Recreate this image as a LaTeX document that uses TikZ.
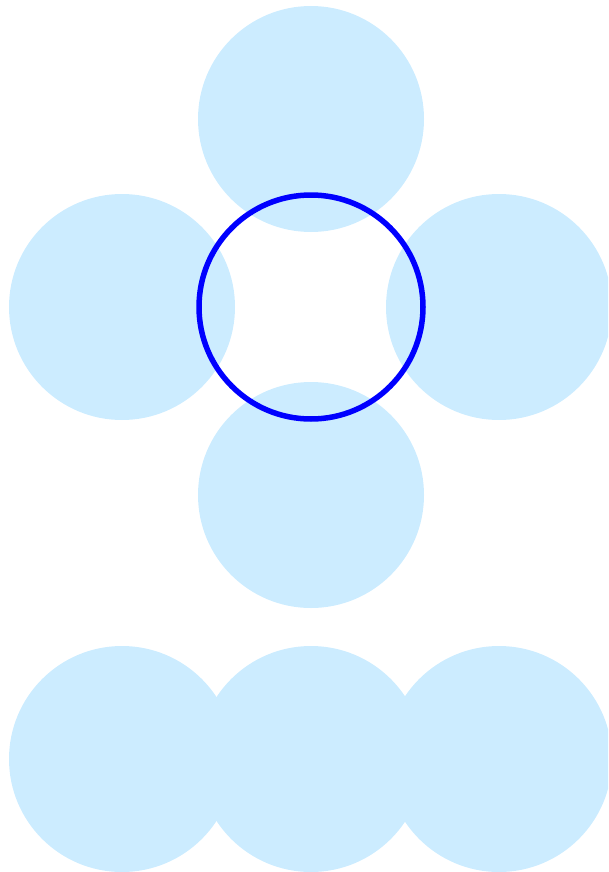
\documentclass[tikz,border=0pt]{standalone}
\definecolor{disc}{RGB}{204,236,255}
\begin{document}
\begin{tikzpicture}[x=1pt,y=-1pt,
  discstyle/.style={fill=disc,draw=none},
  ringstyle/.style={draw=blue,line width=5.5pt}]
\useasboundingbox (0,0) rectangle (608,872);
\begin{scope}
\clip (0,0) rectangle (608,872);
\fill[discstyle] (311,119) circle[radius=113];
\fill[discstyle] (122,307) circle[radius=113];
\fill[discstyle] (499,307) circle[radius=113];
\fill[discstyle] (311,495) circle[radius=113];
\fill[discstyle] (122,759) circle[radius=113];
\fill[discstyle] (311,759) circle[radius=113];
\fill[discstyle] (499,759) circle[radius=113];
\end{scope}
\draw[ringstyle] (311,307) circle[radius=112];
\end{tikzpicture}
\end{document}
